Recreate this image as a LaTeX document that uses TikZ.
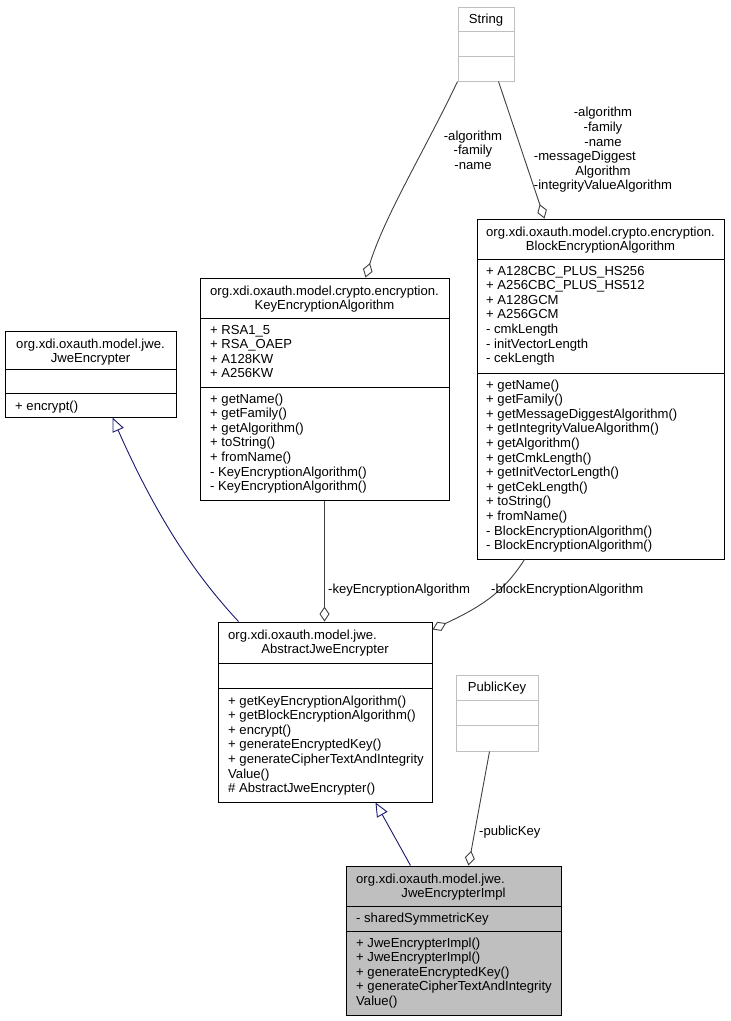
\documentclass[tikz,border=0pt]{standalone}
\usepackage{fontspec}
\setmainfont{Liberation Sans}
\usepackage{calc}
\usetikzlibrary{arrows.meta}
\definecolor{edgegray}{HTML}{404040}
\definecolor{inhblue}{HTML}{191970}
\definecolor{boxgray}{HTML}{BFBFBF}
\tikzset{
  umlbox/.style={draw=black, line width=1pt, inner sep=0pt, fill=white},
  umlboxline/.style={draw=black, line width=1pt},
  extbox/.style={draw=boxgray, line width=1pt, inner sep=0pt, fill=white},
  extboxline/.style={draw=boxgray, line width=1pt},
  implbox/.style={draw=black, line width=1pt, inner sep=0pt, fill=boxgray},
  implboxline/.style={draw=black, line width=1pt},
  txt/.style={font=\fontsize{13.1}{14.6}\selectfont, inner sep=0pt},
  lbl/.style={txt, align=center},
  agg/.style={draw=edgegray, line width=0.9pt, -{Diamond[open,length=15pt,width=10pt]}},
  inh/.style={draw=inhblue, line width=0.9pt, -{Triangle[open,length=14pt,width=12pt]}},
}
\newcommand\umlclass[8]{%
  \node[#2, minimum width={(#4-#3)*1pt}, minimum height={(#8-#5)*1pt}] (#1) at ({(#3+#4)/2},{(#5+#8)/2}) {};
  \draw[#2line] (#3,#6) -- (#4,#6) (#3,#7) -- (#4,#7);
}
\newcommand\umllines[4]{%
  \foreach \t [count=\i from 0] in {#4} {\node[txt, anchor=base west] (#1\i) at (#2, {#3+\i*14.6}) {\t};}
}
\begin{document}
\begin{tikzpicture}[x=1pt, y=-1pt]
\useasboundingbox[fill=white] (0,0) rectangle (731,1021);

% String
\umlclass{string}{extbox}{458}{514}{7}{31}{56}{81}
\node[txt, anchor=base] (stringT) at (486,23.5) {String};

% BlockEncryptionAlgorithm
\umlclass{blockenc}{umlbox}{477}{724}{219}{259}{373}{559}
\node[txt, anchor=base] (blockH1) at (600.5,236) {org.xdi.oxauth.model.crypto.encryption.};
\node[txt, anchor=base] (blockH2) at (600.5,250.5) {BlockEncryptionAlgorithm};
\umllines{blockA}{486}{275}{+ A128CBC\_PLUS\_HS256,+ A256CBC\_PLUS\_HS512,+ A128GCM,+ A256GCM,- cmkLength,- initVectorLength,- cekLength}
\umllines{blockM}{486}{389}{+ getName(),+ getFamily(),+ getMessageDiggestAlgorithm(),+ getIntegrityValueAlgorithm(),+ getAlgorithm(),+ getCmkLength(),+ getInitVectorLength(),+ getCekLength(),+ toString(),+ fromName(),- BlockEncryptionAlgorithm(),- BlockEncryptionAlgorithm()}

% KeyEncryptionAlgorithm
\umlclass{keyenc}{umlbox}{200}{449}{278}{318}{387}{500}
\node[txt, anchor=base] (keyH1) at (324.5,295) {org.xdi.oxauth.model.crypto.encryption.};
\node[txt, anchor=base] (keyH2) at (324.5,309.5) {KeyEncryptionAlgorithm};
\umllines{keyA}{210}{334}{+ RSA1\_5,+ RSA\_OAEP,+ A128KW,+ A256KW}
\umllines{keyM}{210}{403}{+ getName(),+ getFamily(),+ getAlgorithm(),+ toString(),+ fromName(),- KeyEncryptionAlgorithm(),- KeyEncryptionAlgorithm()}

% JweEncrypter
\umlclass{jweenc}{umlbox}{5}{176}{331}{369}{393}{417}
\node[txt, anchor=base] (jweH1) at (90.5,348) {org.xdi.oxauth.model.jwe.};
\node[txt, anchor=base] (jweH2) at (90.5,362.5) {JweEncrypter};
\umllines{jweM}{15}{410}{+ encrypt()}

% AbstractJweEncrypter
\umlclass{abstract}{umlbox}{218}{432}{622}{663}{688}{802}
\node[txt, anchor=base west] (absH1) at (228,639) {org.xdi.oxauth.model.jwe.};
\node[txt, anchor=base] (absH2) at (325,653.5) {AbstractJweEncrypter};
\umllines{absM}{228}{705}{+ getKeyEncryptionAlgorithm(),+ getBlockEncryptionAlgorithm(),+ encrypt(),+ generateEncryptedKey(),+ generateCipherTextAndIntegrity,Value(),\# AbstractJweEncrypter()}

% PublicKey
\umlclass{pubkey}{extbox}{456}{538}{675}{700}{725}{751}
\node[txt, anchor=base] (pubT) at (497,691.5) {PublicKey};

% JweEncrypterImpl
\umlclass{impl}{implbox}{346}{561}{866}{906}{931}{1015}
\node[txt, anchor=base west] (implH1) at (356,883) {org.xdi.oxauth.model.jwe.};
\node[txt, anchor=base] (implH2) at (453.5,897.5) {JweEncrypterImpl};
\umllines{implA}{356}{922}{- sharedSymmetricKey}
\umllines{implM}{356}{947}{+ JweEncrypterImpl(),+ JweEncrypterImpl(),+ generateEncryptedKey(),+ generateCipherTextAndIntegrity,Value()}

% connectors
\draw[agg] (string.south west) .. controls (425,150) and (385,215) .. ([xshift=166pt]keyenc.north west);
\draw[agg] ([xshift=41pt]string.south west) -- ([xshift=68pt]blockenc.north west);
\draw[agg] (keyenc.south) -- (keyenc.south |- abstract.north);
\draw[agg] ([xshift=48pt]blockenc.south west) .. controls (505,590) and (485,605) .. ([yshift=-8pt]abstract.north east);
\draw[agg] ([xshift=34pt]pubkey.south west) -- ([xshift=123pt]impl.north west);
\draw[inh] ([xshift=65pt]impl.north west) -- ([xshift=158pt]abstract.south west);
\draw[inh] ([xshift=21pt]abstract.north west) .. controls (200,580) and (160,525) .. ([xshift=108pt]jweenc.south west);

% labels
\node[lbl] (lblString) at (473,150) {-algorithm\\-family\\-name};
\node[lbl] (lblBlock) at (603,150) {-algorithm\\-family\\-name\\\makebox[\widthof{-integrityValueAlgorithm}][l]{-messageDiggest}\\Algorithm\\-integrityValueAlgorithm};
\node[txt, anchor=west] (lblKey) at (328,590) {-keyEncryptionAlgorithm};
\node[txt, anchor=west] (lblBlk) at (491,590) {-blockEncryptionAlgorithm};
\node[txt, anchor=west] (lblPub) at (479,832) {-publicKey};
\end{tikzpicture}
\end{document}
